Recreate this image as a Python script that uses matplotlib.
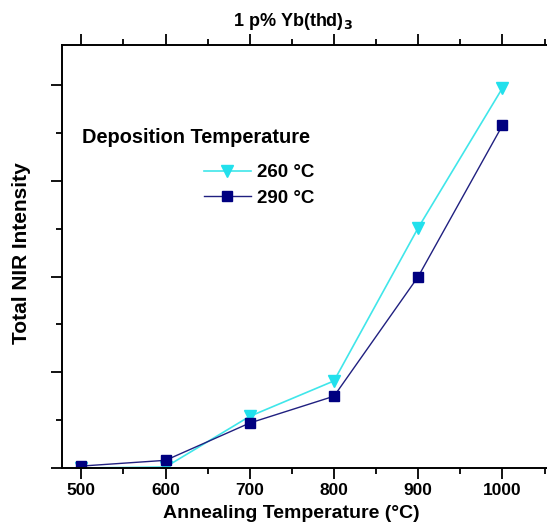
import matplotlib
matplotlib.use("Agg")
import matplotlib.pyplot as plt
from matplotlib.ticker import MultipleLocator, NullFormatter

# data
anneal_temp = [500, 600, 700, 800, 900, 1000]
nir_260 = [0.0, 0.01, 0.54, 0.91, 2.51, 3.97]
nir_290 = [0.02, 0.08, 0.47, 0.75, 2.00, 3.58]
series_labels = ["260 \u00b0C", "290 \u00b0C"]

plt.rcParams['font.family'] = ['Liberation Sans', 'DejaVu Sans']
plt.rcParams['font.weight'] = 'bold'

fig = plt.figure(figsize=(5.47, 5.26), dpi=100)
ax = fig.add_axes([0.1133, 0.1103, 0.8976, 0.8041])

l1, = ax.plot(anneal_temp, nir_260, color='#40E6EA', lw=1.2, marker='v',
              markersize=8, markerfacecolor='#22E0EC', markeredgecolor='#22E0EC')
l2, = ax.plot(anneal_temp, nir_290, color='#202080', lw=1.0, marker='s',
              markersize=6.5, markerfacecolor='#000080', markeredgecolor='#000080')

ax.set_xlim(477, 1060)
ax.set_ylim(0, 4.42)
ax.xaxis.set_major_locator(MultipleLocator(100))
ax.xaxis.set_minor_locator(MultipleLocator(50))
ax.yaxis.set_major_locator(MultipleLocator(1))
ax.yaxis.set_minor_locator(MultipleLocator(0.5))
ax.yaxis.set_major_formatter(NullFormatter())

ax.tick_params(axis='both', which='both', direction='out', width=1.3)
ax.tick_params(axis='both', which='major', length=8, labelsize=12.5, pad=3)
ax.tick_params(axis='both', which='minor', length=4.5)
ax.tick_params(axis='x', which='both', top=True)
for lab in ax.get_xticklabels():
    lab.set_fontweight('bold')

for side in ['left', 'bottom', 'top']:
    ax.spines[side].set_linewidth(1.4)
ax.spines['right'].set_visible(False)

# axis titles placed in figure coordinates
fig.text(291 / 547, 1 - 514 / 526, "Annealing Temperature (\u00b0C)", ha='center', va='center',
         fontsize=14, fontweight='bold')
fig.text(22 / 547, 1 - 253 / 526, "Total NIR Intensity", ha='center', va='center',
         rotation=90, fontsize=15, fontweight='bold')
fig.text(293 / 547, 1 - 22 / 526, "1 p% Yb(thd)$_\\mathbf{3}$", ha='center', va='center',
         fontsize=13, fontweight='bold')

ax.text(0.04, 0.781, "Deposition Temperature", transform=ax.transAxes,
        fontsize=14.4, fontweight='bold', ha='left', va='center')
leg = ax.legend([l1, l2], series_labels, loc='upper left', bbox_to_anchor=(0.255, 0.758),
                frameon=False, prop={'size': 13.5, 'weight': 'bold'},
                handlelength=2.5, handletextpad=0.3, labelspacing=0.45)

fig.savefig("out.png", dpi=100)
